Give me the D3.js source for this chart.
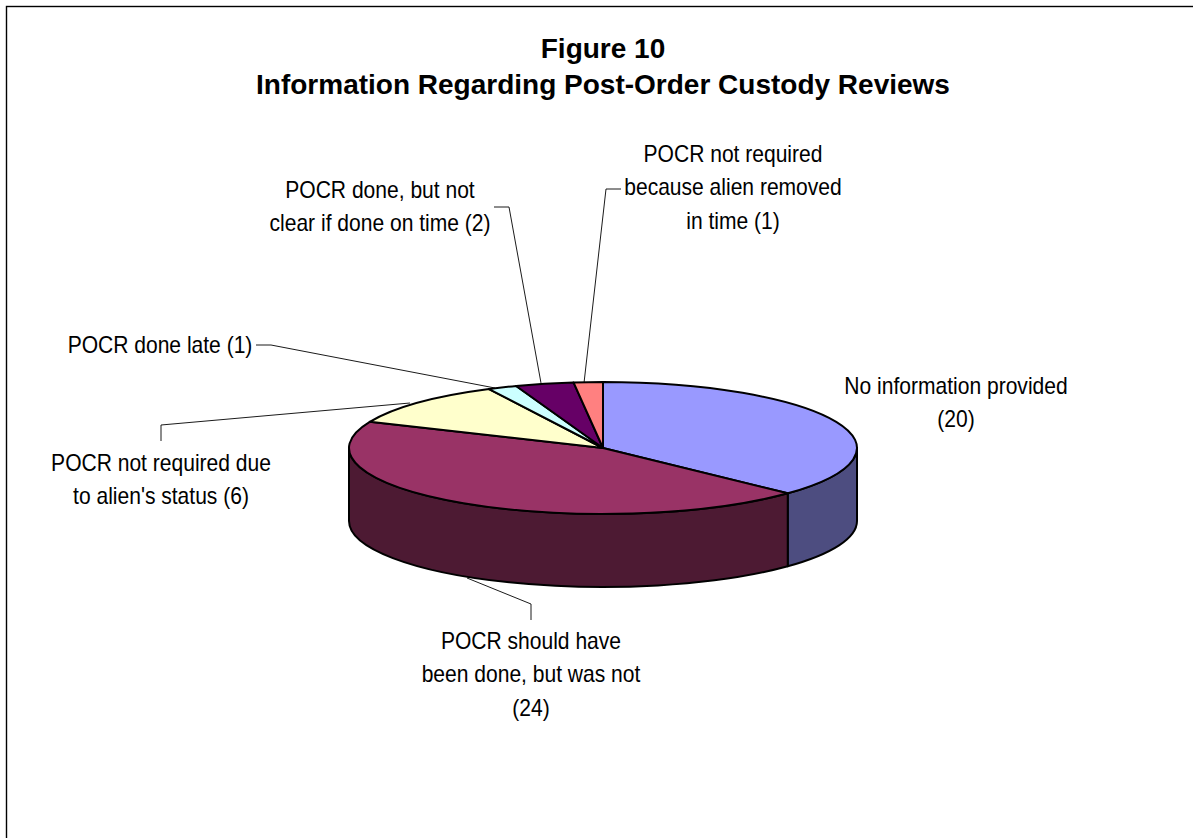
<!DOCTYPE html>
<html>
<head>
<meta charset="utf-8">
<script src="https://cdn.jsdelivr.net/npm/d3@7"></script>
<style>
  html, body { margin: 0; padding: 0; background: #fff; overflow: hidden; }
  svg { display: block; }
  text { font-family: "Liberation Sans", Arial, sans-serif; fill: #000; }
</style>
</head>
<body>
<div id="chart"></div>
<script>
var categories = [
    "No information provided",
    "POCR should have been done, but was not",
    "POCR not required due to alien's status",
    "POCR done late",
    "POCR done, but not clear if done on time",
    "POCR not required because alien removed in time"
];
var values = [20, 24, 6, 1, 2, 1];
var topColors = ["#9999ff", "#993366", "#ffffcc", "#ccffff", "#660066", "#ff8080"];
var sideColors = ["#4d4d80", "#4d1a33", "#80805f", "#668080", "#330033", "#804040"];
var titleLines = ["Figure 10", "Information Regarding Post-Order Custody Reviews"];
var labelLines = [
    ["No information provided", "(20)"],
    ["POCR should have", "been done, but was not", "(24)"],
    ["POCR not required due", "to alien's status (6)"],
    ["POCR done late (1)"],
    ["POCR done, but not", "clear if done on time (2)"],
    ["POCR not required", "because alien removed", "in time (1)"]
];

var width = 1193, height = 838;
var cx = 603, cy = 448, rx = 254, ry = 66, depth = 73;

var svg = d3.select("#chart").append("svg")
    .attr("width", width)
    .attr("height", height);

// chart frame, right and bottom sides fall off the page
svg.append("rect")
    .attr("x", 6.5).attr("y", 6.5)
    .attr("width", 1194).attr("height", 840)
    .attr("fill", "#fff")
    .attr("stroke", "#000")
    .attr("stroke-width", 1.4);

svg.append("g").selectAll("text")
    .data(titleLines)
    .join("text")
    .attr("x", 603)
    .attr("y", (d, i) => 58 + i * 36)
    .attr("text-anchor", "middle")
    .attr("font-size", 28)
    .attr("font-weight", "bold")
    .text(d => d);

var arcs = d3.pie().sort(null)(values);

function pt(a, dy) {
    return [cx + rx * Math.sin(a), cy - ry * Math.cos(a) + (dy || 0)];
}

// wall of the pie, only the part facing the viewer (pi/2 .. 3pi/2)
function wall(d) {
    var a0 = Math.max(d.startAngle, Math.PI / 2);
    var a1 = Math.min(d.endAngle, Math.PI * 1.5);
    if (a1 <= a0) return null;
    var p0 = pt(a0), p1 = pt(a1), q1 = pt(a1, depth), q0 = pt(a0, depth);
    return "M" + p0 + "A" + rx + "," + ry + " 0 0 1 " + p1 +
        "L" + q1 + "A" + rx + "," + ry + " 0 0 0 " + q0 + "Z";
}

var pie = svg.append("g");

pie.selectAll("path.side")
    .data(arcs.filter(d => wall(d)))
    .join("path")
    .attr("class", "side")
    .attr("d", wall)
    .attr("fill", d => sideColors[d.index])
    .attr("stroke", "#000")
    .attr("stroke-width", 2)
    .attr("stroke-linejoin", "round");

var arcGen = d3.arc().innerRadius(0).outerRadius(rx);

pie.selectAll("path.top")
    .data(arcs)
    .join("path")
    .attr("class", "top")
    .attr("d", arcGen)
    .attr("transform", "translate(" + cx + "," + cy + ") scale(1," + (ry / rx) + ")")
    .attr("vector-effect", "non-scaling-stroke")
    .attr("fill", d => topColors[d.index])
    .attr("stroke", "#000")
    .attr("stroke-width", 2)
    .attr("stroke-linejoin", "round");

// leader lines, from label to slice edge
var leaders = [
    [[531, 620], [531, 604], [467, 578]],
    [[161, 441], [161, 425], [410, 403]],
    [[256, 345], [271, 345], [495, 388]],
    [[494, 207], [509, 207], [541, 383]],
    [[621, 189], [606, 189], [584, 383]]
];
svg.append("g").selectAll("path")
    .data(leaders)
    .join("path")
    .attr("d", d3.line())
    .attr("fill", "none")
    .attr("stroke", "#000")
    .attr("stroke-width", 0.9);

// labels are a bit narrower than the font, hence the x scale
var labelPos = [
    [956, 394], [531, 649], [161, 471], [160, 353], [380, 198], [733, 162]
];
svg.append("g").selectAll("text")
    .data(labelLines)
    .join("text")
    .attr("text-anchor", "middle")
    .attr("font-size", 23)
    .attr("transform", (d, i) => "translate(" + labelPos[i] + ") scale(0.915,1)")
    .each(function (lines) {
        d3.select(this).selectAll("tspan")
            .data(lines)
            .join("tspan")
            .attr("x", 0)
            .attr("y", (d, i) => i * 33.5)
            .text(d => d);
    });
</script>
</body>
</html>
